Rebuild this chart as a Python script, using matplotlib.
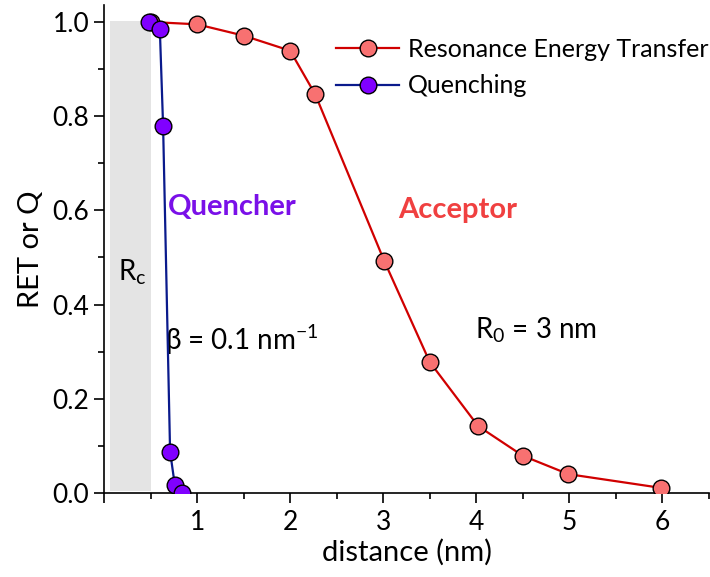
import matplotlib.pyplot as plt
from matplotlib.patches import Rectangle
from matplotlib.ticker import MultipleLocator

plt.rcParams['font.family'] = ['Lato', 'DejaVu Sans']

# Resonance energy transfer curve
ret_x = [0.5, 1.0, 1.5, 2.0, 2.27, 3.01, 3.5, 4.02, 4.5, 4.99, 5.98]
ret_y = [1.0, 0.995, 0.971, 0.939, 0.846, 0.493, 0.278, 0.142, 0.079, 0.040, 0.011]

# Quenching curve
q_x = [0.48, 0.6, 0.635, 0.71, 0.76, 0.84]
q_y = [1.0, 0.984, 0.779, 0.088, 0.018, 0.0]

# contact radius shading
rc_x0, rc_x1 = 0.06, 0.5

fig = plt.figure(figsize=(7.1, 5.77), dpi=100)
ax = fig.add_axes([104/710, 84/577, 605/710, 488/577])

ax.add_patch(Rectangle((rc_x0, 0.005), rc_x1 - rc_x0, 0.998, color='#e4e4e4', lw=0, zorder=0))

ax.plot(ret_x, ret_y, '-o', color='#d00000', lw=1.6, mfc='#f87171', mec='black',
        mew=1.0, ms=12, label='Resonance Energy Transfer', zorder=3)
ax.plot(q_x, q_y, '-o', color='#0a1a8c', lw=1.6, mfc='#8000ff', mec='black',
        mew=1.0, ms=12, label='Quenching', zorder=4)

ax.set_xlim(0, 6.5)
ax.set_ylim(0, 1.036)
ax.set_xticks([0, 1, 2, 3, 4, 5, 6])
ax.set_xticklabels(['', '1', '2', '3', '4', '5', '6'])
ax.set_yticks([0, 0.2, 0.4, 0.6, 0.8, 1.0])
ax.set_yticklabels(['0.0', '0.2', '0.4', '0.6', '0.8', '1.0'])
ax.xaxis.set_minor_locator(MultipleLocator(0.5))
ax.yaxis.set_minor_locator(MultipleLocator(0.1))
ax.tick_params(which='major', direction='out', length=7, width=1.2, labelsize=19)
ax.tick_params(which='minor', direction='out', length=4, width=1.2)
ax.tick_params(axis='x', pad=5)
ax.spines['top'].set_visible(False)
ax.spines['right'].set_visible(False)
ax.spines['left'].set_linewidth(1.2)
ax.spines['bottom'].set_linewidth(1.2)

ax.set_xlabel('distance (nm)', fontsize=21, labelpad=3)
ax.set_ylabel('RET or Q', fontsize=21, labelpad=6)

ax.text(0.3, 0.47, r'R$_\mathregular{c}$', fontsize=20, ha='center', va='center')
ax.text(0.69, 0.607, 'Quencher', fontsize=21, fontweight='bold', color='#7a10e8', va='center')
ax.text(3.16, 0.60, 'Acceptor', fontsize=21, fontweight='bold', color='#f04040', va='center')
ax.text(0.66, 0.325, r'β = 0.1 nm$^\mathregular{-1}$', fontsize=20, va='center')
ax.text(3.99, 0.346, r'R$_\mathregular{0}$ = 3 nm', fontsize=20, va='center')

ax.legend(loc='upper left', bbox_to_anchor=(0.384, 0.933), frameon=False, fontsize=18,
          handlelength=2.5, handletextpad=0.35, labelspacing=0.55, borderaxespad=0,
          borderpad=0)

fig.savefig('out.png', dpi=100)
